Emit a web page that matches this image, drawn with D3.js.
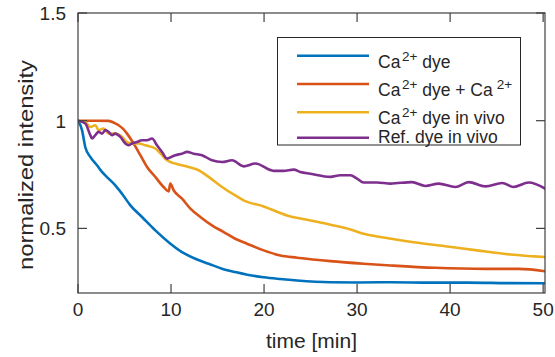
<!DOCTYPE html>
<html>
<head>
<meta charset="utf-8">
<script src="https://cdn.jsdelivr.net/npm/d3@7"></script>
<style>
  html, body { margin: 0; padding: 0; background: #fff; }
  svg { display: block; }
  text { font-family: "Liberation Sans", Arial, Helvetica, sans-serif; fill: #262626; white-space: pre; }
</style>
</head>
<body>
<div id="chart"></div>
<script>
// Photobleaching traces: normalized intensity vs. time [min]
const caDye = [
  [0, 1.0], [0.43, 0.956], [0.78, 0.878], [1.32, 0.832], [2.04, 0.793], [2.58, 0.762],
  [3.29, 0.731], [4.01, 0.700], [4.73, 0.661], [5.63, 0.607], [6.88, 0.553], [8.31, 0.491],
  [9.74, 0.436], [11.18, 0.390], [12.61, 0.359], [14.04, 0.336], [15.48, 0.313], [16.9, 0.297],
  [18.2, 0.285], [19.96, 0.273], [21.7, 0.265], [23.55, 0.258], [27.1, 0.250], [30, 0.249],
  [33.6, 0.250], [38, 0.248], [42, 0.248], [46, 0.246], [50.2, 0.245]
];
const caDyePlusCa = [
  [0, 1.0], [1, 1.0], [2, 1.0], [3.29, 0.999], [3.9, 0.99], [4.37, 0.979], [4.85, 0.962],
  [5.27, 0.940], [5.98, 0.894], [6.70, 0.840], [7.42, 0.785], [8.31, 0.739], [9.2, 0.692],
  [9.75, 0.672], [9.92, 0.708], [10.28, 0.677], [11.18, 0.638], [12.08, 0.592], [13.15, 0.553],
  [14.4, 0.514], [15.66, 0.483], [16.9, 0.452], [18.17, 0.429], [19.96, 0.398], [21.75, 0.374],
  [23.55, 0.364], [27.13, 0.348], [30.7, 0.336], [33.6, 0.328], [38.4, 0.317], [43.8, 0.312],
  [47.4, 0.312], [50.2, 0.301]
];
const caDyeInVivo = [
  [0, 1.0], [0.78, 0.994], [1.32, 0.971], [1.86, 0.979], [2.22, 0.956], [2.75, 0.964],
  [3.29, 0.940], [4.01, 0.940], [4.73, 0.925], [5.27, 0.901], [5.81, 0.894], [6.52, 0.894],
  [7.24, 0.886], [8.31, 0.871], [9.03, 0.840], [9.57, 0.816], [10.46, 0.801], [11.89, 0.785],
  [12.97, 0.770], [14.04, 0.739], [15.48, 0.692], [16.9, 0.653], [17.8, 0.630], [19.96, 0.602],
  [22.47, 0.560], [24.62, 0.540], [27.13, 0.517], [29.28, 0.495], [30.7, 0.475], [32.5, 0.460],
  [36.1, 0.436], [39.7, 0.416], [42.9, 0.398], [46.5, 0.379], [50.2, 0.367]
];
const refDyeInVivo = [
  [0, 1.0], [0.78, 0.987], [1.32, 0.933], [1.51, 0.917], [1.86, 0.933], [2.22, 0.948],
  [2.58, 0.940], [2.94, 0.956], [3.29, 0.948], [3.66, 0.933], [4.01, 0.940], [4.55, 0.925],
  [5.09, 0.894], [5.44, 0.886], [5.81, 0.894], [6.34, 0.901], [6.88, 0.909], [7.42, 0.909],
  [7.96, 0.917], [8.49, 0.886], [9.03, 0.855], [9.57, 0.824], [10.46, 0.840], [11.18, 0.847],
  [11.72, 0.855], [12.43, 0.847], [13.33, 0.840], [14.4, 0.816], [15.48, 0.808], [16.56, 0.816],
  [17.8, 0.788], [19.07, 0.801], [21.03, 0.767], [22.1, 0.767], [23.18, 0.773], [23.9, 0.762],
  [24.98, 0.754], [27.13, 0.739], [28.2, 0.747], [29.28, 0.747], [30.0, 0.731], [30.7, 0.713],
  [32.15, 0.713], [33.6, 0.708], [35.9, 0.715], [37.34, 0.697], [38.77, 0.708], [40.57, 0.692],
  [42.0, 0.715], [43.8, 0.695], [45.6, 0.711], [46.8, 0.692], [48.45, 0.713], [50.2, 0.685]
];

const seriesColors = ["#0072BD", "#D95319", "#EDB120", "#7E2F8E"];
const xTicks = [0, 10, 20, 30, 40, 50];
const yTicks = [0.5, 1, 1.5];
const xTitle = "time [min]";
const yTitle = "normalized intensity";

const W = 555, H = 357;
const mLeft = 78, mRight = 545, mTop = 13, mBottom = 293;

const svg = d3.select("#chart").append("svg").attr("width", W).attr("height", H);

const x = d3.scaleLinear().domain([0, 50.2]).range([mLeft, mRight]);
const y = d3.scaleLinear().domain([0.2, 1.5]).range([mBottom, mTop]);

svg.append("clipPath").attr("id", "plot-clip")
  .append("rect").attr("x", mLeft).attr("y", mTop)
  .attr("width", mRight - mLeft).attr("height", mBottom - mTop);

// series lines
const line = d3.line().x(d => x(d[0])).y(d => y(d[1])).curve(d3.curveMonotoneX);
const allSeries = [caDye, caDyePlusCa, caDyeInVivo, refDyeInVivo];
const g = svg.append("g").attr("clip-path", "url(#plot-clip)");
allSeries.forEach((s, i) => {
  g.append("path").datum(s)
    .attr("d", line)
    .attr("fill", "none")
    .attr("stroke", seriesColors[i])
    .attr("stroke-width", 2.6)
    .attr("stroke-linejoin", "round")
    .attr("stroke-linecap", "round");
});

// box axes with inward ticks
const axisColor = "#404040";
const tickLen = 9;
const axG = svg.append("g").attr("stroke", axisColor).attr("stroke-width", 1.2).attr("fill", "none");
axG.append("rect").attr("x", mLeft).attr("y", mTop)
  .attr("width", mRight - mLeft).attr("height", mBottom - mTop);
xTicks.forEach(t => {
  axG.append("line").attr("x1", x(t)).attr("x2", x(t)).attr("y1", mBottom).attr("y2", mBottom - tickLen);
  axG.append("line").attr("x1", x(t)).attr("x2", x(t)).attr("y1", mTop).attr("y2", mTop + tickLen);
});
yTicks.forEach(t => {
  axG.append("line").attr("x1", mLeft).attr("x2", mLeft + tickLen).attr("y1", y(t)).attr("y2", y(t));
  axG.append("line").attr("x1", mRight).attr("x2", mRight - tickLen).attr("y1", y(t)).attr("y2", y(t));
});

// tick labels
svg.append("g").selectAll("text").data(xTicks).join("text")
  .attr("x", d => x(d)).attr("y", 316)
  .attr("text-anchor", "middle").attr("font-size", 19)
  .text(d => String(d));
svg.append("g").selectAll("text").data(yTicks).join("text")
  .attr("x", 66).attr("y", d => y(d) + 7)
  .attr("text-anchor", "end").attr("font-size", 19)
  .text(d => String(d));

// axis titles
svg.append("text").attr("x", (mLeft + mRight) / 2).attr("y", 348)
  .attr("text-anchor", "middle").attr("font-size", 21).text(xTitle);
svg.append("text")
  .attr("transform", `translate(33,${(mTop + mBottom) / 2 + 12}) rotate(-90)`)
  .attr("text-anchor", "middle").attr("font-size", 21)
  .attr("textLength", 210).attr("lengthAdjust", "spacingAndGlyphs")
  .text(yTitle);

// legend
const legend = svg.append("g");
legend.append("rect").attr("x", 277.5).attr("y", 37.5).attr("width", 243).attr("height", 107.5)
  .attr("fill", "#fff").attr("stroke", "#262626").attr("stroke-width", 1);
const legendRows = [
  { y: 55.7, base: 68, parts: [["Ca", 0], ["2+", 1], [" dye", 0]] },
  { y: 84, base: 95.5, parts: [["Ca", 0], ["2+", 1], [" dye + Ca", 0], ["2+", 2]] },
  { y: 112.3, base: 124.3, parts: [["Ca", 0], ["2+", 1], [" dye in vivo", 0]] },
  { y: 137.7, base: 143.3, parts: [["Ref. dye in vivo", 0]] }
];
legendRows.forEach((r, i) => {
  legend.append("line").attr("x1", 297).attr("x2", 369).attr("y1", r.y).attr("y2", r.y)
    .attr("stroke", seriesColors[i]).attr("stroke-width", 2.6);
  const t = legend.append("text").attr("x", 378).attr("y", r.base).attr("font-size", 17.5);
  let raised = false;
  r.parts.forEach(([s, sup]) => {
    if (sup) {
      t.append("tspan").attr("font-size", 13.5).attr("dy", -7)
        .attr("dx", sup === 2 ? 4 : 1.5).text(s);
      raised = true;
    } else {
      const sp = t.append("tspan").attr("font-size", 17.5).text(s);
      if (raised) { sp.attr("dy", 7); raised = false; }
    }
  });
});
</script>
</body>
</html>
